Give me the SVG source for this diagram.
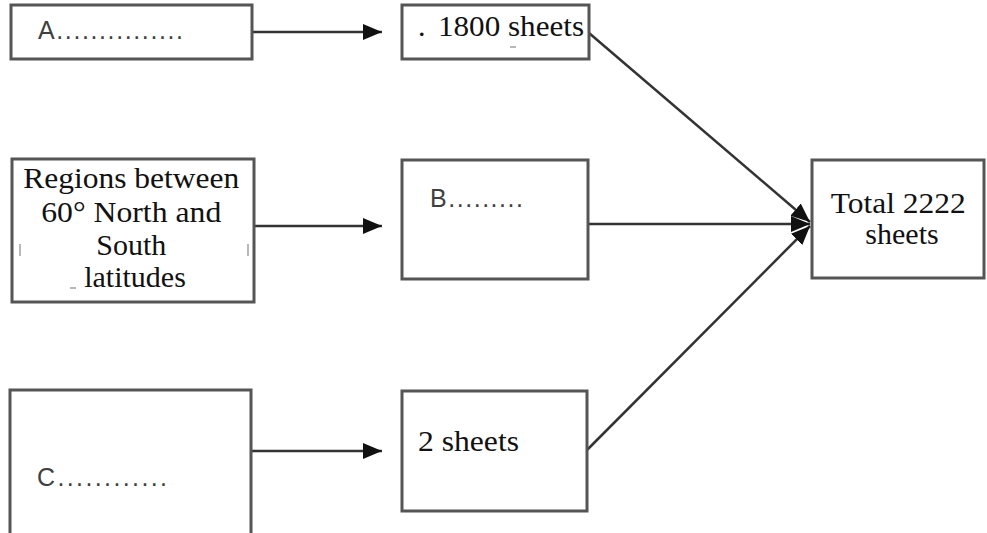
<svg xmlns="http://www.w3.org/2000/svg" width="987" height="533" viewBox="0 0 987 533">
  <style>
    .box { fill: #ffffff; stroke: #555555; stroke-width: 3; }
    .serif { font-family: "Liberation Serif", "Times New Roman", serif; font-size: 30px; fill: #111111; }
    .sans { font-family: "Liberation Sans", "Open Sans", sans-serif; font-size: 25px; fill: #404040; }
    .link { stroke: #333333; stroke-width: 2.5; fill: none; }
    .mark { stroke: #888888; stroke-width: 1.2; }
  </style>
  <defs>
    <marker id="head" markerUnits="userSpaceOnUse" markerWidth="20" markerHeight="18" refX="19" refY="9" orient="auto">
      <path d="M0,1 L19,9 L0,17 Z" fill="#111111"/>
    </marker>
  </defs>
  <rect width="987" height="533" fill="#ffffff"/>

  <g id="connectors">
    <line class="link" x1="252" y1="32" x2="382" y2="32" marker-end="url(#head)"/>
    <line class="link" x1="254" y1="226" x2="382" y2="226" marker-end="url(#head)"/>
    <line class="link" x1="251" y1="451" x2="382" y2="451" marker-end="url(#head)"/>
    <line class="link" x1="589" y1="33" x2="810" y2="222" marker-end="url(#head)"/>
    <line class="link" x1="588" y1="224" x2="810" y2="224" marker-end="url(#head)"/>
    <line class="link" x1="587" y1="450" x2="810" y2="226" marker-end="url(#head)"/>
  </g>

  <g id="node-a">
    <rect class="box" x="11" y="5" width="241" height="54"/>
    <text class="sans" x="38" y="39" textLength="145" lengthAdjust="spacing">A...............</text>
  </g>

  <g id="node-regions">
    <rect class="box" x="12" y="159" width="242" height="143"/>
    <text class="serif" text-anchor="middle">
      <tspan x="135" y="188" textLength="216" lengthAdjust="spacingAndGlyphs">Regions between</tspan>
      <tspan x="135" y="222" textLength="180" lengthAdjust="spacingAndGlyphs">60° North and</tspan>
      <tspan x="135" y="255">South</tspan>
      <tspan x="135" y="287">latitudes</tspan>
    </text>
    <line class="mark" x1="20" y1="244" x2="20" y2="256"/>
    <line class="mark" x1="248" y1="244" x2="248" y2="256"/>
    <line class="mark" x1="70" y1="288" x2="76" y2="288"/>
  </g>

  <g id="node-c">
    <rect class="box" x="10" y="390" width="241" height="150"/>
    <text class="sans" x="37" y="486" textLength="130" lengthAdjust="spacing">C............</text>
  </g>

  <g id="node-1800">
    <rect class="box" x="402" y="5" width="187" height="54"/>
    <text class="serif" x="418" y="36">.</text>
    <text class="serif" x="438" y="36" textLength="146" lengthAdjust="spacingAndGlyphs">1800 sheets</text>
    <line class="mark" x1="510" y1="47" x2="516" y2="47"/>
  </g>

  <g id="node-b">
    <rect class="box" x="402" y="160" width="186" height="119"/>
    <text class="sans" x="430" y="207" textLength="93" lengthAdjust="spacing">B.........</text>
  </g>

  <g id="node-2">
    <rect class="box" x="402" y="391" width="185" height="120"/>
    <text class="serif" x="418" y="451" textLength="101" lengthAdjust="spacingAndGlyphs">2 sheets</text>
  </g>

  <g id="node-total">
    <rect class="box" x="812" y="160" width="172" height="118"/>
    <text class="serif" text-anchor="middle">
      <tspan x="902" y="213" textLength="135" lengthAdjust="spacingAndGlyphs">Total 2222</tspan>
      <tspan x="902" y="244">sheets</tspan>
    </text>
  </g>
</svg>
